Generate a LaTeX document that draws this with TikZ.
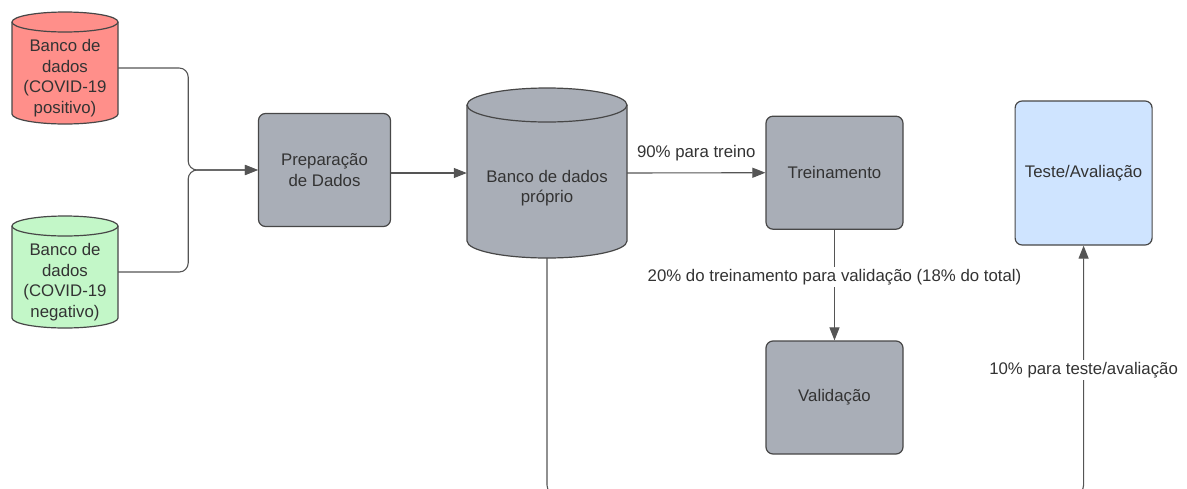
\documentclass[tikz,border=0pt]{standalone}
\usepackage{fontspec}
\setmainfont{Liberation Sans}
\usetikzlibrary{arrows.meta}

\definecolor{boxgrey}{HTML}{A9AEB7}
\definecolor{dbred}{HTML}{FF8F8A}
\definecolor{dbgreen}{HTML}{C3F7C8}
\definecolor{testblue}{HTML}{CFE4FF}
\definecolor{edgegrey}{HTML}{474747}
\definecolor{linegrey}{HTML}{555555}
\definecolor{txtgrey}{HTML}{333333}

\begin{document}
\begin{tikzpicture}[x=1pt, y=1pt,
        every node/.style={font=\fontsize{16.8}{20.5}\selectfont, text=txtgrey},
        stepbox/.style={draw=edgegrey, line width=1.2pt, rounded corners=7pt, fill=boxgrey,
            minimum width=137pt, minimum height=113pt, align=center},
        dbtext/.style={align=center, inner sep=0pt},
        dbshape/.style={draw=edgegrey, line width=1.2pt},
        flow/.style={draw=linegrey, line width=1.1pt, rounded corners=9pt},
        tip/.style={-{Triangle[length=13pt, width=10pt]}}
    ]
        \useasboundingbox (0,0) rectangle (1187,-488);
        \clip (0,0) rectangle (1187,-488);

        % Source databases (positive / negative)
        \filldraw[dbshape, fill=dbred] (12,-22) -- (12,-114) arc (180:360:53 and 10) -- (118,-22) arc (0:180:53 and 10) -- cycle;
        \draw[dbshape] (12,-22) arc (180:360:53 and 10);
        \node[dbtext, minimum width=106pt] (pos) at (65,-78) {Banco de\\dados\\(COVID-19\\positivo)};

        \filldraw[dbshape, fill=dbgreen] (12,-226) -- (12,-318) arc (180:360:53 and 10) -- (118,-226) arc (0:180:53 and 10) -- cycle;
        \draw[dbshape] (12,-226) arc (180:360:53 and 10);
        \node[dbtext, minimum width=106pt] (neg) at (65,-282) {Banco de\\dados\\(COVID-19\\negativo)};

        % Own database
        \filldraw[dbshape, fill=boxgrey] (467,-105) -- (467,-241) arc (180:360:80 and 17) -- (627,-105) arc (0:180:80 and 17) -- cycle;
        \draw[dbshape] (467,-105) arc (180:360:80 and 17);
        \node[dbtext, minimum width=160pt, minimum height=140pt] (own) at (547,-188) {Banco de dados\\próprio};

        % Process boxes
        \node[stepbox, minimum width=132pt] (prep) at (324.5,-170) {Preparação\\de Dados};
        \node[stepbox] (train) at (834.5,-172.7) {Treinamento};
        \node[stepbox] (valid) at (834.5,-397.5) {Validação};
        \node[stepbox, fill=testblue, minimum height=144pt] (test) at (1083.6,-173) {Teste/Avaliação};

        % Connectors
        \draw[flow, tip] ([yshift=10pt]pos.east) -- ++(70,0) |- (prep.west);
        \draw[flow, tip] ([yshift=10pt]neg.east) -- ++(70,0) |- (prep.west);
        \draw[flow, tip] ([yshift=-3pt]prep.east) -- ([yshift=15pt]own.west);
        \draw[flow, tip] ([yshift=15pt]own.east) -- (train.west)
            node[midway, yshift=20pt] {90\% para treino};
        \draw[flow, tip] (train.south) -- (valid.north)
            node[midway, yshift=8pt, fill=white, inner sep=2pt] {20\% do treinamento para validação (18\% do total)};
        \draw[flow, tip] (own.south) -- ++(0,-236) -| (test.south)
            node[pos=0.75, fill=white, inner sep=2pt] {10\% para teste/avaliação};
    \end{tikzpicture}
\end{document}
